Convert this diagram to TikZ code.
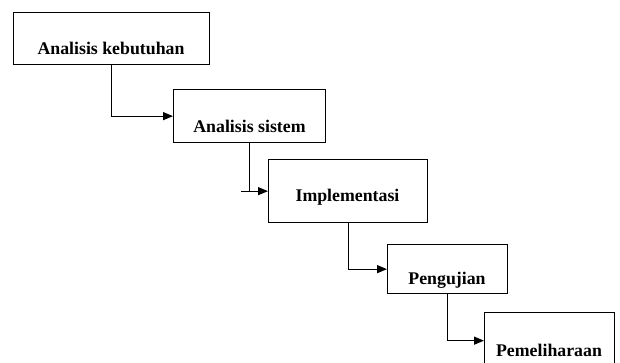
\documentclass[tikz,border=0pt]{standalone}
\usepackage{fontspec}
\setmainfont{Liberation Serif}
\usetikzlibrary{arrows.meta}

\begin{document}
\begin{tikzpicture}[
    x=1pt, y=-1pt,
    box/.style={draw, line width=1.3pt, rectangle, anchor=north west, inner sep=0pt},
    lbl/.style={anchor=base, font=\bfseries\fontsize{17.8}{20}\selectfont},
    flow/.style={line width=1.3pt, -{Triangle[length=10pt, width=8pt]}}
]
    \clip (0, 0) rectangle (620, 362);

    % Boxes
    \node[box, minimum width=196, minimum height=52] (kebutuhan) at (13, 12) {};
    \node[box, minimum width=152, minimum height=53] (sistem) at (173, 89) {};
    \node[box, minimum width=159, minimum height=63] (implementasi) at (268, 159) {};
    \node[box, minimum width=120, minimum height=49] (pengujian) at (387, 244) {};
    \node[box, minimum width=130, minimum height=56] (pemeliharaan) at (484, 312) {};

    % Labels
    \node[lbl] (t1) at (111, 54) {Analisis kebutuhan};
    \node[lbl] (t2) at (249.5, 132) {Analisis sistem};
    \node[lbl] (t3) at (347.5, 201) {Implementasi};
    \node[lbl] (t4) at (447, 284) {Pengujian};
    \node[lbl] (t5) at (549, 356) {Pemeliharaan};

    % Flow
    \draw[flow] (kebutuhan.south) |- (sistem.west);
    \draw[flow] (sistem.south) |- (implementasi.west);
    \draw[line width=1.3pt] (implementasi.west -| sistem.south) -- ++(-9, 0);
    \draw[flow] (implementasi.south) |- (pengujian.west);
    \draw[flow] (pengujian.south) |- (pemeliharaan.west);
\end{tikzpicture}
\end{document}
